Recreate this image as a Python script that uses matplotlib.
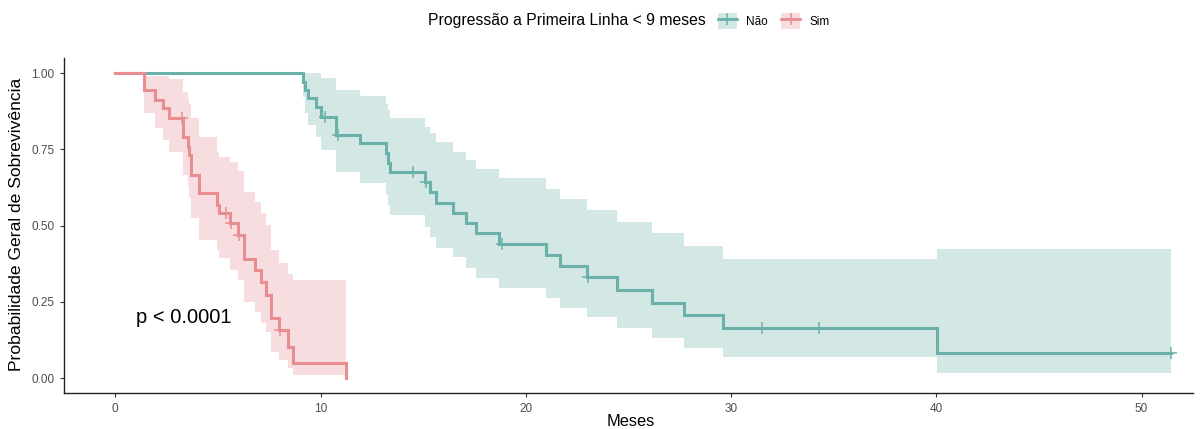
import numpy as np
import matplotlib
matplotlib.use('Agg')
import matplotlib.pyplot as plt
from matplotlib.patches import Patch
from matplotlib.lines import Line2D

# Group "Não" (progression >= 9 months)
t_nao = [0, 9.14, 9.25, 9.38, 9.79, 10.03, 10.77, 11.9, 13.17, 13.28, 13.37, 15.07, 15.32,
         15.64, 16.46, 17.11, 17.59, 18.70, 20.98, 21.69, 23.0, 24.45, 26.13, 27.7, 29.63,
         40.03, 51.45]
s_nao = [1, 0.972, 0.944, 0.917, 0.890, 0.857, 0.797, 0.770, 0.737, 0.704, 0.674, 0.644, 0.611,
         0.575, 0.542, 0.507, 0.474, 0.438, 0.403, 0.367, 0.330, 0.289, 0.247, 0.207, 0.165,
         0.081, 0.081]
hi_nao = [1, 1, 1, 1, 1, 0.983, 0.944, 0.925, 0.90, 0.879, 0.851, 0.824, 0.802,
          0.775, 0.742, 0.715, 0.684, 0.655, 0.619, 0.586, 0.551, 0.513, 0.474, 0.433, 0.389,
          0.422, 0.422]
lo_nao = [1, 0.92, 0.868, 0.83, 0.79, 0.748, 0.677, 0.638, 0.60, 0.567, 0.534, 0.496, 0.463,
          0.427, 0.396, 0.36, 0.327, 0.294, 0.261, 0.229, 0.199, 0.163, 0.130, 0.097, 0.070,
          0.015, 0.015]
cens_nao_t = [10.2, 10.85, 14.5, 15.15, 18.86, 23.05, 31.5, 34.3, 51.45]
cens_nao_s = [0.857, 0.797, 0.674, 0.644, 0.438, 0.330, 0.165, 0.165, 0.081]

# Group "Sim" (progression < 9 months)
t_sim = [0, 1.41, 1.95, 2.31, 2.63, 3.32, 3.53, 3.61, 3.69, 4.10, 4.94, 5.07, 5.58, 5.97,
         6.29, 6.83, 7.11, 7.35, 7.59, 8.0, 8.41, 8.65, 11.25]
s_sim = [1, 0.944, 0.911, 0.884, 0.853, 0.791, 0.758, 0.731, 0.666, 0.606, 0.567, 0.540, 0.507,
         0.469, 0.389, 0.354, 0.316, 0.272, 0.196, 0.157, 0.103, 0.050, 0.0]
hi_sim = [1, 0.99, 0.99, 0.99, 0.98, 0.939, 0.917, 0.90, 0.851, 0.791, 0.740, 0.725, 0.709,
          0.679, 0.611, 0.578, 0.540, 0.502, 0.42, 0.376, 0.34, 0.321, 0.321]
lo_sim = [1, 0.868, 0.821, 0.780, 0.742, 0.666, 0.627, 0.59, 0.525, 0.452, 0.42, 0.392, 0.354,
          0.321, 0.25, 0.217, 0.18, 0.152, 0.086, 0.06, 0.032, 0.010, 0.010]
cens_sim_t = [3.25, 5.40, 5.64, 6.05, 8.03]
cens_sim_s = [0.853, 0.540, 0.507, 0.469, 0.157]

groups = ['Não', 'Sim']
line_colors = ['#6AB1AA', '#E88D90']
band_colors = ['#D3E7E5', '#F7DDE0']
x_ticks = [0, 10, 20, 30, 40, 50]
y_ticks = [0, 0.25, 0.5, 0.75, 1.0]
y_tick_labels = ['0.00', '0.25', '0.50', '0.75', '1.00']


def draw_group(ax, t, s, lo, hi, ct, cs, lc, bc):
    ax.fill_between(t, lo, hi, step='post', color=bc, lw=0, zorder=1)
    ax.step(t, s, where='post', color=lc, lw=2.2, zorder=3, solid_joinstyle='miter')
    ax.plot(ct, cs, ls='none', marker='+', ms=8, mew=1.1, color=lc, zorder=4)


def main():
    plt.rcParams['font.family'] = ['Liberation Sans', 'DejaVu Sans']
    fig = plt.figure(figsize=(12, 4.29), dpi=100)
    ax = fig.add_axes([0.0533, 0.0833, 0.9408, 0.782])

    draw_group(ax, t_nao, s_nao, lo_nao, hi_nao, cens_nao_t, cens_nao_s,
               line_colors[0], band_colors[0])
    draw_group(ax, t_sim, s_sim, lo_sim, hi_sim, cens_sim_t, cens_sim_s,
               line_colors[1], band_colors[1])

    ax.text(1.0, 0.2, 'p < 0.0001', fontsize=14.5, ha='left', va='center', color='black')

    ax.set_xlim(-2.5, 52.5)
    ax.set_ylim(-0.05, 1.05)
    ax.set_xticks(x_ticks)
    ax.set_yticks(y_ticks)
    ax.set_yticklabels(y_tick_labels)
    ax.tick_params(labelsize=8.5, labelcolor='#4D4D4D', color='#333333', length=3, width=0.8, pad=4)
    for side in ['top', 'right']:
        ax.spines[side].set_visible(False)
    for side in ['left', 'bottom']:
        ax.spines[side].set_linewidth(1.0)
        ax.spines[side].set_color('#222222')

    ax.set_xlabel('Meses', fontsize=11.8, va='center')
    ax.xaxis.set_label_coords(631 / 1200, 1 - 422 / 429, transform=fig.transFigure)
    ax.set_ylabel('Probabilidade Geral de Sobrevivência', fontsize=12.6)
    ax.yaxis.set_label_coords(24 / 1200, 1 - 224 / 429, transform=fig.transFigure)

    # legend: title on the left, two keys on the right
    fig.text(428 / 1200, 1 - 21 / 429, 'Progressão a Primeira Linha < 9 meses',
             fontsize=11.3, ha='left', va='center')
    handles = []
    for lc, bc in zip(line_colors, band_colors):
        handles.append((Patch(facecolor=bc, edgecolor='none'),
                        Line2D([], [], color=lc, lw=2, marker='+', ms=9, mew=1.1)))
    fig.legend(handles, groups, loc='center left', bbox_to_anchor=(718 / 1200, 1 - 21 / 429),
               ncol=2, frameon=False, fontsize=8.5, handlelength=1.6, handleheight=1.8,
               handletextpad=0.8, columnspacing=1.1, borderpad=0, borderaxespad=0)

    fig.savefig('out.png', dpi=100)


if __name__ == '__main__':
    main()
